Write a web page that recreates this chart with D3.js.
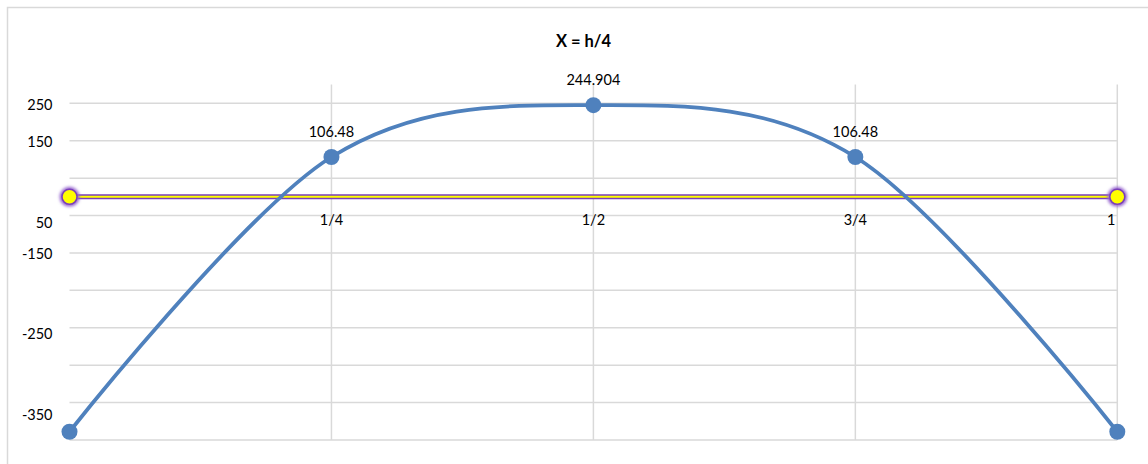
<!DOCTYPE html>
<html>
<head>
<meta charset="utf-8">
<script src="https://cdn.jsdelivr.net/npm/d3@7"></script>
<style>
  html, body { margin: 0; padding: 0; background: #fff; }
  svg { display: block; }
  text { font-family: Lato, "Open Sans", sans-serif; fill: #000; }
</style>
</head>
<body>
<svg id="chart" width="1148" height="464"></svg>
<script>
// Positions along the member (fraction of h) and the computed values
const xValues = [0, 0.25, 0.5, 0.75, 1];
const momentValues = [-628, 106.48, 244.904, 106.48, -628];
const labelledIndex = [1, 2, 3];

// Reference line at zero, drawn between the two ends
const refX = [0, 1];
const refValues = [0, 0];

// Axis ticks
const xTickValues = [0.25, 0.5, 0.75, 1];
const xTickLabels = ["1/4", "1/2", "3/4", "1"];
const yGridValues = [250, 150, 50, -50, -150, -250, -350, -450, -550, -650];
const yTickLabels = ["250", "150", "50", "-150", "-250", "-350"];
const yTickAt = [250, 150, -65, -150, -363, -578];

const title = "X = h/4";

const svg = d3.select("#chart");
const W = 1148, H = 464;

const x = d3.scaleLinear().domain([0, 1]).range([69.5, 1117.3]);
const y = d3.scaleLinear().domain([-650, 300]).range([440, 84.6]);

// outer chart frame
svg.append("rect")
  .attr("x", 7.5).attr("y", 7.5)
  .attr("width", W + 20).attr("height", H + 20)
  .attr("fill", "none").attr("stroke", "#d9d9d9").attr("stroke-width", 1.5);

// glow used on the zero line
const defs = svg.append("defs");
const glow = defs.append("filter").attr("id", "glow")
  .attr("x", "-20%").attr("y", "-300%").attr("width", "140%").attr("height", "700%");
glow.append("feGaussianBlur").attr("stdDeviation", 1.4);

// gridlines
const grid = svg.append("g").attr("stroke", "#d9d9d9").attr("stroke-width", 1.5);
grid.selectAll("line.h").data(yGridValues).join("line")
  .attr("class", "h")
  .attr("x1", x(0)).attr("x2", x(1))
  .attr("y1", d => y(d)).attr("y2", d => y(d));
grid.selectAll("line.v").data(xTickValues).join("line")
  .attr("class", "v")
  .attr("x1", d => x(d)).attr("x2", d => x(d))
  .attr("y1", y(300)).attr("y2", y(-650));

// y tick labels
svg.append("g").selectAll("text").data(yTickLabels).join("text")
  .attr("x", 52.5)
  .attr("y", (d, i) => y(yTickAt[i]) + 6.5)
  .attr("text-anchor", "end")
  .attr("font-size", 14.5)
  .text(d => d);

// x tick labels, placed under the zero line
svg.append("g").selectAll("text").data(xTickLabels).join("text")
  .attr("x", (d, i) => i === xTickLabels.length - 1 ? x(xTickValues[i]) - 2 : x(xTickValues[i]))
  .attr("y", y(0) + 28.5)
  .attr("text-anchor", (d, i) => i === xTickLabels.length - 1 ? "end" : "middle")
  .attr("font-size", 14.5)
  .text(d => d);

// title
svg.append("text")
  .attr("x", 583.5).attr("y", 47)
  .attr("text-anchor", "middle")
  .attr("font-size", 16.5)
  .attr("font-weight", "bold")
  .text(title);

// zero reference line: purple glow with yellow core
const refPts = refX.map((d, i) => [x(d), y(refValues[i])]);
const refLine = d3.line().x(d => d[0]).y(d => d[1]);
svg.append("path").attr("d", refLine(refPts))
  .attr("fill", "none").attr("stroke", "#9a6ad0").attr("stroke-width", 8)
  .attr("filter", "url(#glow)");
svg.append("path").attr("d", refLine(refPts))
  .attr("fill", "none").attr("stroke", "#7a3fb8").attr("stroke-width", 5);
svg.append("path").attr("d", refLine(refPts))
  .attr("fill", "none").attr("stroke", "#ffff00").attr("stroke-width", 2);

// smoothed curve
const pts = xValues.map((d, i) => [x(d), y(momentValues[i])]);
const smooth = d3.line().curve(d3.curveCardinal.tension(0));
svg.append("path").attr("d", smooth(pts))
  .attr("fill", "none").attr("stroke", "#4f81bd").attr("stroke-width", 3.8)
  .attr("stroke-linejoin", "round");

// curve markers
svg.append("g").selectAll("circle").data(pts).join("circle")
  .attr("cx", d => d[0]).attr("cy", d => d[1]).attr("r", 8)
  .attr("fill", "#4f81bd");

// zero line markers
const refMarks = svg.append("g");
refMarks.selectAll("circle.g").data(refPts).join("circle")
  .attr("class", "g")
  .attr("cx", d => d[0]).attr("cy", d => d[1]).attr("r", 10)
  .attr("fill", "#9a6ad0").attr("filter", "url(#glow)");
refMarks.selectAll("circle.m").data(refPts).join("circle")
  .attr("class", "m")
  .attr("cx", d => d[0]).attr("cy", d => d[1]).attr("r", 7.5)
  .attr("fill", "#ffff00").attr("stroke", "#7a3fb8").attr("stroke-width", 1.5);

// value labels above the marked points
svg.append("g").selectAll("text").data(labelledIndex).join("text")
  .attr("x", i => x(xValues[i]))
  .attr("y", i => y(momentValues[i]) - 20)
  .attr("text-anchor", "middle")
  .attr("font-size", 14.5)
  .text(i => String(momentValues[i]));
</script>
</body>
</html>
